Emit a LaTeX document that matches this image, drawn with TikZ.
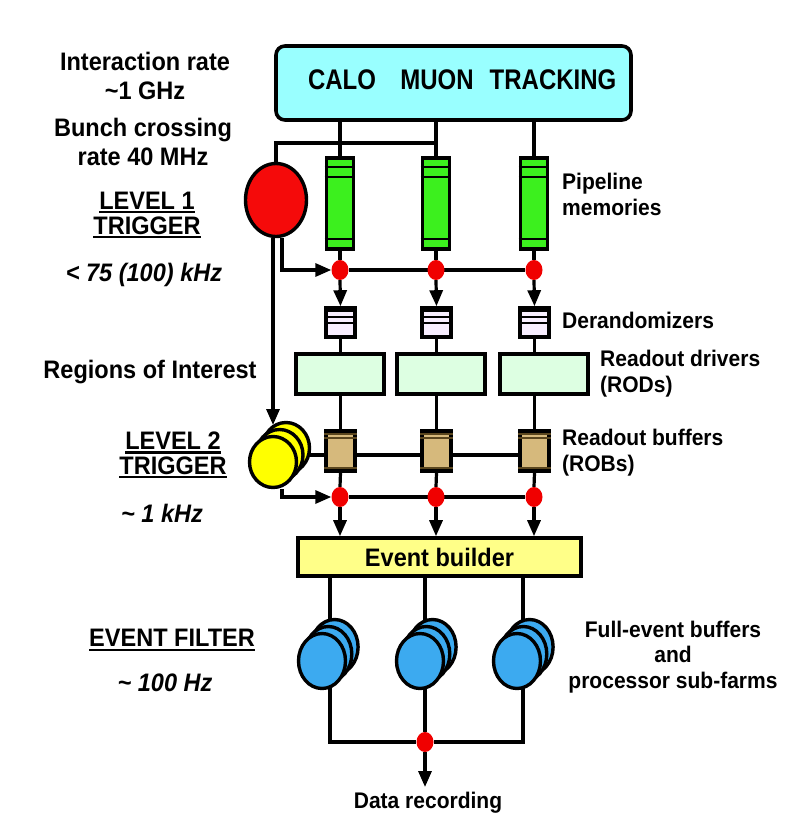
\documentclass[tikz,border=0pt]{standalone}
\usepackage{fontspec}
\setmainfont{Liberation Sans}[FakeStretch=0.93]
\usetikzlibrary{arrows.meta,backgrounds,shapes.geometric}
\definecolor{topcyan}{RGB}{153,255,255}
\definecolor{pipegreen}{RGB}{60,240,30}
\definecolor{trigred}{RGB}{245,10,10}
\definecolor{dotred}{RGB}{240,0,0}
\definecolor{derlav}{RGB}{248,238,255}
\definecolor{rodgreen}{RGB}{221,255,226}
\definecolor{robtan}{RGB}{214,185,124}
\definecolor{robline}{RGB}{90,70,30}
\definecolor{l2yellow}{RGB}{255,255,0}
\definecolor{ebyellow}{RGB}{255,255,136}
\definecolor{efblue}{RGB}{60,170,240}
\newcommand{\ulbar}[1]{\leavevmode\setbox0=\hbox{#1}\rlap{\rule[-4pt]{\wd0}{2.2pt}}\box0}
\begin{document}
\begin{tikzpicture}[x=1pt,y=-1pt,
  wire/.style={line width=3.2pt,black},
  arr/.style={wire,-{Triangle[length=16pt,width=13pt]}},
  boxx/.style={draw,line width=3.6pt,inner sep=0pt},
  dot/.style={ellipse,fill=dotred,minimum width=17pt,minimum height=20pt,inner sep=0pt},
  trig/.style={ellipse,draw,line width=3.4pt,inner sep=0pt},
  yell/.style={trig,fill=l2yellow,minimum width=47pt,minimum height=51pt},
  bell/.style={trig,fill=efblue,minimum width=47pt,minimum height=55pt},
  pipe/.style={boxx,fill=pipegreen,minimum width=27pt,minimum height=91pt},
  der/.style={boxx,fill=derlav,minimum width=29pt,minimum height=29pt},
  rod/.style={boxx,fill=rodgreen,minimum width=88pt,minimum height=40pt},
  rob/.style={boxx,fill=robtan,minimum width=29pt,minimum height=40pt},
  stripe/.style={line width=1.8pt},
  lab/.style={font=\fontsize{25.3}{29}\selectfont\bfseries,align=center,inner sep=0pt},
  ilab/.style={font=\fontsize{25.3}{29}\selectfont\bfseries\itshape,align=center,inner sep=0pt},
  rlab/.style={font=\fontsize{22.6}{26}\selectfont\bfseries,align=left,anchor=west,inner sep=0pt},
  clab/.style={font=\fontsize{22.6}{25.5}\selectfont\bfseries,align=center,inner sep=0pt},
  toplab/.style={font=\fontsize{25.8}{28}\selectfont\bfseries,inner sep=0pt}]
\useasboundingbox (0,0) rectangle (797,833);

% detector box
\node[boxx,rounded corners=9pt,fill=topcyan,minimum width=355pt,minimum height=74pt] (top) at (453.5,83) {};
\node[toplab] (calo) at (342,80) {\scalebox{1}[1.1]{CALO}};
\node[toplab] (muon) at (437,80) {\scalebox{1}[1.1]{MUON}};
\node[toplab] (trk) at (553,80) {\scalebox{1}[1.1]{TRACKING}};

% level 1
\node[trig,fill=trigred,minimum width=61pt,minimum height=73pt] (l1) at (276,200) {};
\coordinate (bc) at (437,143);
\coordinate (ra) at (273,0);
\coordinate (rb) at (282,0);
\coordinate (l2in) at (273,425);

% columns
\foreach \i/\x in {1/340,2/436,3/534}{
  \node[pipe] (p\i) at (\x,203.5) {};
  \draw[stripe] ([shift={(0,11)}]p\i.north west) -- ([shift={(0,11)}]p\i.north east);
  \draw[stripe] ([shift={(0,21)}]p\i.north west) -- ([shift={(0,21)}]p\i.north east);
  \draw[stripe] ([shift={(0,-12)}]p\i.south west) -- ([shift={(0,-12)}]p\i.south east);
  \node[dot] (d\i) at (\x,270) {};
  \node[der] (dr\i) at (\x+0.5,322.5) {};
  \draw[stripe] ([shift={(0,5)}]dr\i.north west) -- ([shift={(0,5)}]dr\i.north east);
  \draw[stripe] ([shift={(0,10.5)}]dr\i.north west) -- ([shift={(0,10.5)}]dr\i.north east);
  \draw[stripe] ([shift={(0,16.5)}]dr\i.north west) -- ([shift={(0,16.5)}]dr\i.north east);
  \node[rob] (rob\i) at (\x+0.5,451) {};
  \draw[stripe,robline] ([shift={(0,4.5)}]rob\i.north west) -- ([shift={(0,4.5)}]rob\i.north east);
  \draw[stripe,robline] ([shift={(0,8.5)}]rob\i.north west) -- ([shift={(0,8.5)}]rob\i.north east);
  \draw[stripe,robline] ([shift={(0,-5)}]rob\i.south west) -- ([shift={(0,-5)}]rob\i.south east);
}
\foreach \i/\x in {4/340,5/436,6/534}{
  \node[dot] (d\i) at (\x,497) {};
}
\node[rod] (rod1) at (340,374) {};
\node[rod] (rod2) at (441,374) {};
\node[rod] (rod3) at (544,374) {};

% level 2 stack
\node[yell] (l2c) at (286,448) {};
\node[yell] (l2b) at (279.5,455) {};
\node[yell] (l2) at (273,462) {};

% event builder
\node[boxx,fill=ebyellow,minimum width=283pt,minimum height=38pt,
  font=\fontsize{25.3}{28}\selectfont\bfseries] (eb) at (439.5,557) {Event builder};

% event filter stacks
\foreach \i/\x in {1/322,2/420,3/517}{
  \node[bell] (ef\i c) at ({\x+12.6},647) {};
  \node[bell] (ef\i b) at ({\x+6.3},654) {};
  \node[bell] (ef\i) at (\x,661) {};
}
\coordinate (c1) at (330,0);
\coordinate (c2) at (425,0);
\coordinate (c3) at (523,0);
\node[dot] (d7) at (425,742) {};
\coordinate (recin) at (425,787);
\node[clab] (rec) at (428,803) {Data recording};

% connectors behind shapes
\begin{pgfonlayer}{background}
  \foreach \i in {1,2,3}{
    \draw[wire] (top.south -| p\i) -- (p\i.north);
    \draw[wire] (p\i.south) -- (d\i.north);
    \draw[wire] (dr\i.south) -- (dr\i.south |- rod1.north);
    \draw[wire] (rob\i.north |- rod1.south) -- (rob\i.north);
  }
  \draw[wire] (bc) -| (l1.north);
  \draw[wire] (d1) -- (d3);
  \draw[wire] (d4) -- (d6);
  \draw[wire] (l2b.center) -- (l2b.center -| rob3);
  \draw[wire] (eb.south -| c1) -- (c1 |- ef1c.center);
  \draw[wire] (eb.south -| c2) -- (c2 |- ef2c.center);
  \draw[wire] (eb.south -| c3) -- (c3 |- ef3c.center);
  \draw[wire] (c1 |- ef1.center) |- (d7) -| (c3 |- ef3.center);
  \draw[wire] (c2 |- ef2.center) -- (d7);
\end{pgfonlayer}

% connectors in front
\foreach \i in {1,2,3}{
  \draw[arr] (d\i.south) -- (dr\i.north);
}
\draw[wire] (rob1.south) -- (d4.north);
\draw[wire] (rob2.south) -- (d5.north);
\draw[wire] (rob3.south) -- (d6.north);
\draw[arr] (d4.south) -- (d4 |- eb.north);
\draw[arr] (d5.south) -- (d5 |- eb.north);
\draw[arr] (d6.south) -- (d6 |- eb.north);
\draw[arr] (ra |- l1.south) -- (l2in);
\draw[arr] (rb |- l1.south) |- (d1.west);
\draw[arr] (rb |- l2.south) |- (d4.west);
\draw[arr] (d7.south) -- (recin);

% left labels
\node[lab] (t1) at (145,75.5) {Interaction rate\\\textasciitilde1 GHz};
\node[lab] (t2) at (143,141.5) {Bunch crossing\\rate 40 MHz};
\node[lab,font=\fontsize{25.3}{25}\selectfont\bfseries] (t3) at (147,215) {\ulbar{LEVEL 1}\\\ulbar{TRIGGER}};
\node[ilab] (t4) at (144,275) {< 75 (100) kHz};
\node[lab] (t5) at (150,372) {Regions of Interest};
\node[lab,font=\fontsize{25.3}{24.5}\selectfont\bfseries] (t6) at (173,455) {\ulbar{LEVEL 2}\\\ulbar{TRIGGER}};
\node[ilab] (t7) at (162,513) {\textasciitilde\ 1 kHz};
\node[lab] (t8) at (172,640) {\ulbar{EVENT FILTER}};
\node[ilab] (t9) at (165,683) {\textasciitilde\ 100 Hz};

% right labels
\node[rlab] (r1) at (562,194.5) {Pipeline\\memories};
\node[rlab] (r2) at (562,320) {Derandomizers};
\node[rlab] (r3) at (600,373.5) {Readout drivers\\(RODs)};
\node[rlab] (r4) at (562,453) {Readout buffers\\(ROBs)};
\node[clab] (r5) at (673,657) {Full-event buffers\\and\\processor sub-farms};
\end{tikzpicture}
\end{document}
